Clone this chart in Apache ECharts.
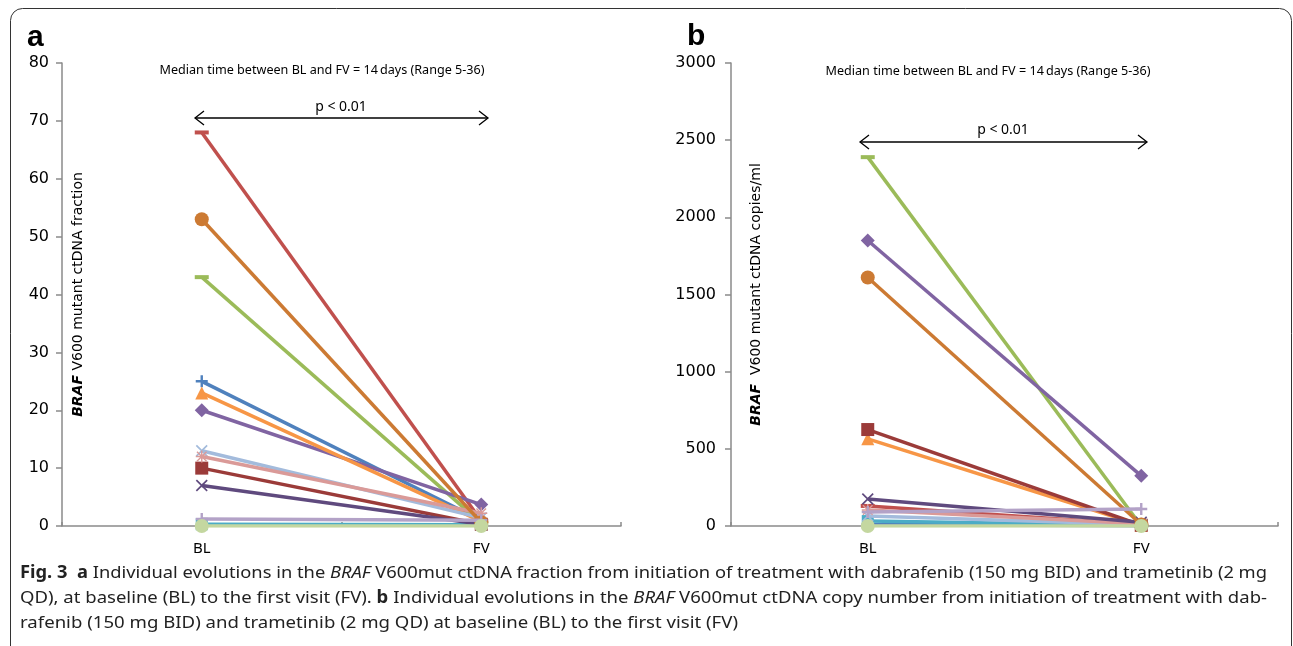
<!DOCTYPE html>
<html>
<head>
<meta charset="utf-8">
<script src="https://cdn.jsdelivr.net/npm/echarts@6/dist/echarts.min.js"></script>
<style>
html, body { margin: 0; padding: 0; background: #fff; }
#wrap { position: relative; width: 1293px; height: 646px; overflow: hidden; }
#chart { position: absolute; left: 0; top: 0; width: 1293px; height: 646px; }
#caption {
  position: absolute; left: 20px; top: 559px;
  font-family: 'Noto Sans', sans-serif; font-size: 17px; line-height: 25px; color: #222;
}
#caption .ln { display: block; width: max-content; white-space: nowrap; transform-origin: 0 0; }
</style>
</head>
<body>
<div id="wrap">
  <div id="chart"></div>
  <div id="caption">
    <div class="ln"><b>Fig. 3</b>&nbsp; <b>a</b> Individual evolutions in the <i>BRAF</i> V600mut ctDNA fraction from initiation of treatment with dabrafenib (150 mg BID) and trametinib (2 mg</div>
    <div class="ln">QD), at baseline (BL) to the first visit (FV). <b>b</b> Individual evolutions in the <i>BRAF</i> V600mut ctDNA copy number from initiation of treatment with dab-</div>
    <div class="ln">rafenib (150 mg BID) and trametinib (2 mg QD) at baseline (BL) to the first visit (FV)</div>
  </div>
</div>
<script>
// categories on both panels
const categories = ['BL', 'FV']

// one entry per patient, same order in both panels
const fractionBL = [25, 68, 43, 20, 0.3, 23, 10, 13, 12, 7, 53, 1.2, 0]
const fractionFV = [1.0, 0.9, 0.5, 3.7, 0.2, 0.8, 0.3, 1.4, 2.2, 0.3, 0.6, 1.0, 0]
const copiesBL = [10, 130, 2390, 1850, 32, 565, 625, 65, 104, 175, 1610, 90, 0]
const copiesFV = [2, 10, 0, 325, 5, 5, 5, 10, 15, 25, 10, 110, 0]

// marker shapes (Excel style)
const PLUS = 'path://M4,0H6V4H10V6H6V10H4V6H0V4H4Z'
const CROSS = 'path://M0,1L1,0L5,4L9,0L10,1L6,5L10,9L9,10L5,6L1,10L0,9L4,5Z'
const STAR = 'path://M4.4,0H5.6V4.4H10V5.6H5.6V10H4.4V5.6H0V4.4H4.4Z M0.6,1.4L1.4,0.6L5,4.2L8.6,0.6L9.4,1.4L5.8,5L9.4,8.6L8.6,9.4L5,5.8L1.4,9.4L0.6,8.6L4.2,5Z'

const patientColors = ['#4F81BD', '#C0504D', '#9BBB59', '#8064A2', '#4BACC6', '#F79646',
  '#9B3B39', '#A3BBDC', '#DA9A98', '#5F4A7E', '#CC7A33', '#B3A2C7', '#C4D7A0']
const patientSymbols = [PLUS, 'rect', 'rect', 'diamond', 'rect', 'triangle',
  'rect', CROSS, STAR, CROSS, 'circle', PLUS, 'circle']
const patientSymbolSizes = [12, [14, 4], [14, 4], 14, 12, 13, 13, 12, 12, 12, 14, 12, 14]

const buildSeries = (bl, fv, idx) => bl.map((v, i) => ({
  type: 'line',
  xAxisIndex: idx,
  yAxisIndex: idx,
  data: [v, fv[i]],
  symbol: patientSymbols[i],
  symbolSize: patientSymbolSizes[i],
  showAllSymbol: true,
  lineStyle: { color: patientColors[i], width: 3.5 },
  itemStyle: { color: patientColors[i] },
  emphasis: { disabled: true },
  z: 2 + i * 0.01,
  animation: false,
  silent: true
}))

const axisGray = { color: '#8a8a8a', width: 1.5 }

const makeX = (gridIndex) => ({
  type: 'category',
  gridIndex,
  data: categories,
  boundaryGap: true,
  axisLine: { lineStyle: axisGray },
  axisTick: { show: true, inside: true, length: 4, lineStyle: axisGray },
  axisLabel: { fontFamily: 'Noto Sans', fontSize: 15, color: '#000', margin: 15 },
  splitLine: { show: false }
})

const makeY = (gridIndex, max, interval, name, nameGap, margin) => ({
  type: 'value',
  gridIndex,
  min: 0,
  max,
  interval,
  name,
  nameLocation: 'middle',
  nameRotate: 90,
  nameGap,
  nameTextStyle: {
    fontFamily: 'DejaVu Sans', fontSize: 14, color: '#000',
    rich: { bi: { fontFamily: 'DejaVu Sans', fontSize: 14, fontStyle: 'italic', fontWeight: 'bold', color: '#000' } }
  },
  axisLine: { show: true, lineStyle: axisGray },
  axisTick: { show: true, length: 6, lineStyle: axisGray },
  axisLabel: { fontFamily: 'DejaVu Sans', fontSize: 16, color: '#000', margin, formatter: (v) => String(v) },
  splitLine: { show: false }
})

const arrow = (x1, x2, y) => ({
  type: 'group',
  silent: true,
  children: [
    { type: 'line', shape: { x1, y1: y, x2, y2: y }, style: { stroke: '#000', lineWidth: 1.3 } },
    { type: 'polyline', shape: { points: [[x1 + 9, y - 7], [x1, y], [x1 + 9, y + 7]] }, style: { stroke: '#000', lineWidth: 1.3, fill: null } },
    { type: 'polyline', shape: { points: [[x2 - 9, y - 7], [x2, y], [x2 - 9, y + 7]] }, style: { stroke: '#000', lineWidth: 1.3, fill: null } }
  ]
})

const label = (x, y, text, size, extra) => ({
  type: 'text', x, y, silent: true,
  style: Object.assign({ text, fontFamily: 'Noto Sans', fontSize: size, fill: '#000', align: 'center', verticalAlign: 'middle' }, extra || {})
})

const subtitle = 'Median time between BL and FV = 14\u2009days (Range 5-36)'

const chart = echarts.init(document.getElementById('chart'))
chart.setOption({
  animation: false,
  backgroundColor: '#fff',
  grid: [
    { left: 62, top: 63, width: 559, height: 463, outerBoundsMode: 'none' },
    { left: 731, top: 63, width: 547, height: 463, outerBoundsMode: 'none' }
  ],
  xAxis: [makeX(0), makeX(1)],
  yAxis: [
    makeY(0, 80, 10, '{bi|BRAF} V600 mutant ctDNA fraction', -23, 13),
    makeY(1, 3000, 500, '{bi|BRAF}  V600 mutant ctDNA copies/ml', -32, 15)
  ],
  series: [
    ...buildSeries(fractionBL, fractionFV, 0),
    ...buildSeries(copiesBL, copiesFV, 1)
  ],
  graphic: [
    { type: 'rect', silent: true, shape: { x: 10.5, y: 8.5, width: 1281, height: 660, r: 12 }, style: { fill: null, stroke: '#333', lineWidth: 1 } },
    label(27, 38, 'a', 30, { fontFamily: 'Liberation Sans', fontWeight: 'bold', align: 'left' }),
    label(687, 37, 'b', 30, { fontFamily: 'Liberation Sans', fontWeight: 'bold', align: 'left' }),
    label(322, 70, subtitle, 12.6),
    label(988, 71, subtitle, 12.6),
    label(341, 107, 'p < 0.01', 14),
    label(1003, 130, 'p < 0.01', 14)
  ].concat([arrow(195, 488, 118), arrow(860, 1147, 142)])
})

// caption: journal text is narrower than Noto Sans and justified on its first two lines
const lines = document.querySelectorAll('#caption .ln')
const widths = Array.from(lines).map(el => el.getBoundingClientRect().width)
const fontScale = 718 / widths[2]
lines.forEach((el, i) => {
  if (i === 2) {
    el.style.transform = 'scaleX(' + fontScale + ')'
    return
  }
  const needed = 1247 / fontScale
  const spaces = el.textContent.trim().split(/[\s\u00a0]+/).length - 1
  if (widths[i] < needed) {
    el.style.wordSpacing = ((needed - widths[i]) / spaces) + 'px'
    el.style.transform = 'scaleX(' + fontScale + ')'
  } else {
    el.style.transform = 'scaleX(' + (1247 / widths[i]) + ')'
  }
})
</script>
</body>
</html>
